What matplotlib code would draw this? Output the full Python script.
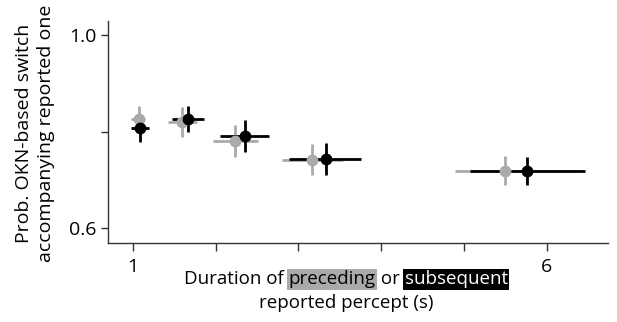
import matplotlib
matplotlib.use('Agg')
import numpy as np
import matplotlib.pyplot as plt

# preceding percept (gray)
preX = [1.08, 1.60, 2.24, 3.17, 5.50]
preY = [0.825, 0.820, 0.781, 0.742, 0.719]
preYerr = [0.027, 0.031, 0.033, 0.033, 0.030]
preXlo = [0.98, 1.43, 1.97, 2.80, 4.89]
preXhi = [1.15, 1.77, 2.51, 3.54, 6.34]

# subsequent percept (black)
subX = [1.09, 1.67, 2.35, 3.33, 5.76]
subY = [0.808, 0.826, 0.791, 0.744, 0.719]
subYerr = [0.029, 0.027, 0.033, 0.033, 0.029]
subXlo = [0.98, 1.47, 2.05, 2.89, 5.07]
subXhi = [1.20, 1.86, 2.65, 3.76, 6.46]

xticks = [1, 2, 3, 4, 5, 6]
xticklabels = ['1', '', '', '', '', '6']
yticks = [0.6, 0.8, 1.0]
yticklabels = ['0.6', '', '1.0']

plt.rcParams['font.family'] = ['Open Sans', 'DejaVu Sans']
FS = 13.5
GRAY = '#aaaaaa'

fig = plt.figure(figsize=(6.17, 3.22), dpi=100)
ax = fig.add_axes([0.175, 0.245, 0.81, 0.69])

def draw(x, y, yerr, xlo, xhi, color):
    x = np.array(x)
    xerr = [x - np.array(xlo), np.array(xhi) - x]
    ax.errorbar(x, y, yerr=yerr, xerr=xerr, fmt='o', color=color,
                ms=7.5, elinewidth=2.0, capsize=0)

draw(preX, preY, preYerr, preXlo, preXhi, GRAY)
draw(subX, subY, subYerr, subXlo, subXhi, 'black')

ax.set_xlim(0.70, 6.74)
ax.set_ylim(0.569, 1.029)
ax.set_xticks(xticks)
ax.set_xticklabels(xticklabels, fontsize=14)
ax.set_yticks(yticks)
ax.set_yticklabels(yticklabels, fontsize=14)
ax.tick_params(axis='x', length=6, width=1, color='#333333', pad=5)
ax.tick_params(axis='y', length=5, width=1, color='#333333', pad=3)
for s in ['top', 'right']:
    ax.spines[s].set_visible(False)
for s in ['left', 'bottom']:
    ax.spines[s].set_linewidth(1.0)
    ax.spines[s].set_color('#333333')

fig.text(35 / 617.0, 1 - 133 / 322.0, 'Prob. OKN-based switch\naccompanying reported one',
         fontsize=14, linespacing=1.25, rotation=90, ha='center', va='center')

# x label built from pieces so two words can carry coloured boxes
fig.canvas.draw()
renderer = fig.canvas.get_renderer()
pieces = [('Duration of ', 'black', None),
          ('preceding', 'black', GRAY),
          (' or ', 'black', None),
          ('subsequent', 'white', 'black')]
widths = []
for txt, c, bg in pieces:
    t = fig.text(0, 0, txt, fontsize=FS)
    widths.append(t.get_window_extent(renderer).width)
    t.remove()
W = fig.get_figwidth() * fig.dpi
total = sum(widths)
xpos = (346 - total / 2) / W
y1 = 1 - 279 / 322.0
for (txt, c, bg), w in zip(pieces, widths):
    kw = {}
    if bg is not None:
        kw['bbox'] = dict(boxstyle='square,pad=0.08', fc=bg, ec='none')
    fig.text(xpos, y1, txt, fontsize=FS, color=c, va='center', ha='left', **kw)
    xpos += w / W
fig.text(346 / W, 1 - 303 / 322.0, 'reported percept (s)', fontsize=FS,
         ha='center', va='center')

fig.savefig('out.png', dpi=100)
